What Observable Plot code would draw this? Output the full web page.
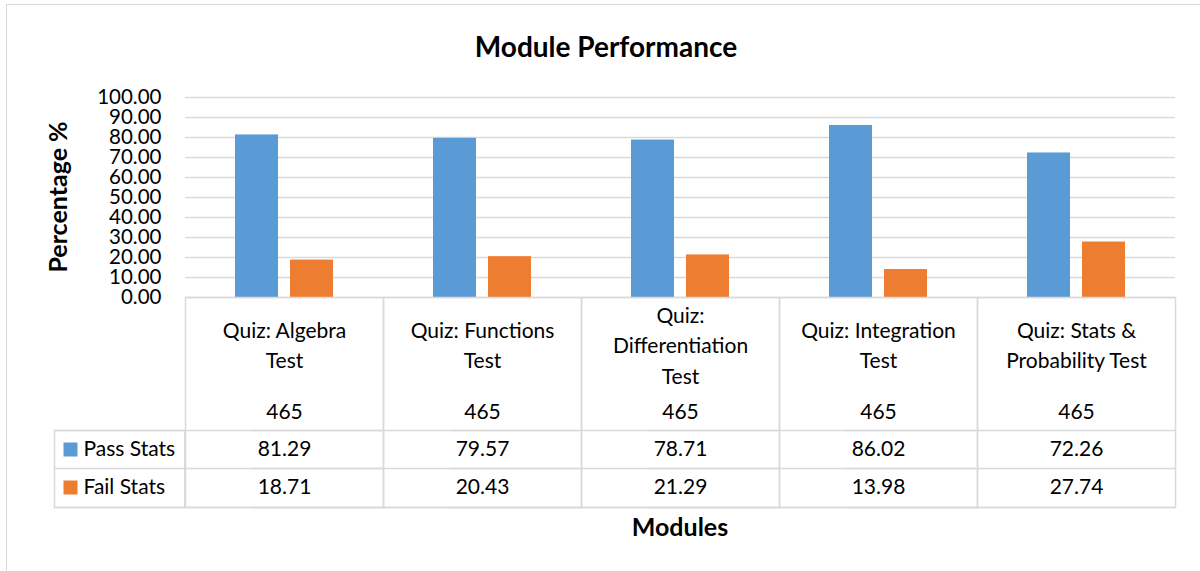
<!DOCTYPE html>
<html>
<head>
<meta charset="utf-8">
<script src="https://cdn.jsdelivr.net/npm/d3@7"></script>
<script src="https://cdn.jsdelivr.net/npm/@observablehq/plot@0.6"></script>
<style>
  html, body { margin: 0; padding: 0; background: #fff; }
  #wrap { position: relative; width: 1200px; height: 571px; overflow: hidden; font-family: "Lato", sans-serif; }
  #border { position: absolute; left: 6px; top: 4px; width: 1300px; height: 700px; border: 1.5px solid #d9d9d9; box-sizing: border-box; }
  .lbl { position: absolute; transform: translate(-50%, -50%); white-space: nowrap; font-weight: 700; line-height: 1; color: #000; }
  #chart { position: absolute; left: 0; top: 0; }
</style>
</head>
<body>
<div id="wrap">
  <div id="border"></div>
  <div id="chart"></div>
  <div class="lbl" id="title" style="left:606px; top:46px; font-size:28px;">Module Performance</div>
  <div class="lbl" id="xlabel" style="left:680px; top:526px; font-size:25px;">Modules</div>
  <div class="lbl" id="ylabel" style="left:57px; top:197px; font-size:25px; transform: translate(-50%, -50%) rotate(-90deg);">Percentage %</div>
</div>
<script>
// ---- data ----
const modules = ["Quiz: Algebra Test", "Quiz: Functions Test", "Quiz: Differentiation Test", "Quiz: Integration Test", "Quiz: Stats & Probability Test"];
const moduleLabels = ["Quiz: Algebra\nTest", "Quiz: Functions\nTest", "Quiz:\nDifferentiation\nTest", "Quiz: Integration\nTest", "Quiz: Stats &\nProbability Test"];
const counts = [465, 465, 465, 465, 465];
const passStats = [81.29, 79.57, 78.71, 86.02, 72.26];
const failStats = [18.71, 20.43, 21.29, 13.98, 27.74];
const seriesNames = ["Pass Stats", "Fail Stats"];
const seriesColors = ["#5B9BD5", "#ED7D31"];
const yTicks = [0, 10, 20, 30, 40, 50, 60, 70, 80, 90, 100];

// ---- derived table ----
const rows = modules.flatMap((m, i) => [
  {module: m, series: seriesNames[0], value: passStats[i]},
  {module: m, series: seriesNames[1], value: failStats[i]}
]);

const lineColor = "#d9d9d9";
const tableFont = 21;

const firstFacet = () => modules[0];

const plot = Plot.plot({
  width: 1200,
  height: 571,
  marginTop: 97,
  marginBottom: 274,
  marginLeft: 183,
  marginRight: 23,
  style: {fontFamily: "Lato, sans-serif", fontSize: "20.5px", color: "#000", background: "transparent", overflow: "visible"},
  fx: {domain: modules, padding: 0, axis: null, label: null},
  x: {domain: seriesNames, paddingInner: 0.214, paddingOuter: 0.884, axis: null, label: null},
  y: {domain: [0, 100], ticks: yTicks, tickFormat: d => d.toFixed(2), tickSize: 0, tickPadding: 24, label: null},
  color: {domain: seriesNames, range: seriesColors},
  marks: [
    Plot.ruleY(yTicks, {stroke: lineColor, strokeWidth: 1.5}),
    Plot.barY(rows, {fx: "module", x: "series", y: "value", fill: "series"}),
    // table grid: column cells
    Plot.frame({stroke: lineColor, strokeWidth: 1.5, insetTop: 200, insetBottom: -210}),
    // row separators (extend into legend column)
    Plot.ruleY([0], {stroke: lineColor, strokeWidth: 1.5, dy: 133, insetLeft: -131}),
    Plot.ruleY([0], {stroke: lineColor, strokeWidth: 1.5, dy: 171, insetLeft: -131}),
    Plot.ruleY([0], {stroke: lineColor, strokeWidth: 1.5, dy: 210, insetLeft: -131}),
    // legend column box
    Plot.frame({fx: [modules[0]], stroke: lineColor, strokeWidth: 1.5, insetTop: 333, insetBottom: -210, insetLeft: -131, insetRight: 198.8}),
    // category labels
    Plot.text(modules, {fx: d => d, text: (d, i) => moduleLabels[i], frameAnchor: "bottom", dy: 46, lineAnchor: "middle", lineHeight: 1.45, fontSize: tableFont, fill: "#000"}),
    // counts row
    Plot.text(counts, {fx: (d, i) => modules[i], text: d => String(d), frameAnchor: "bottom", dy: 115, lineAnchor: "middle", fontSize: tableFont, fill: "#000"}),
    // pass row
    Plot.text(passStats, {fx: (d, i) => modules[i], text: d => d.toFixed(2), frameAnchor: "bottom", dy: 152, lineAnchor: "middle", fontSize: tableFont, fill: "#000"}),
    // fail row
    Plot.text(failStats, {fx: (d, i) => modules[i], text: d => d.toFixed(2), frameAnchor: "bottom", dy: 190, lineAnchor: "middle", fontSize: tableFont, fill: "#000"}),
    // legend keys
    Plot.dot([seriesNames[0]], {fx: firstFacet, frameAnchor: "bottom-left", dx: -115, dy: 152, symbol: "square", r: 7.9, fill: d => d}),
    Plot.dot([seriesNames[1]], {fx: firstFacet, frameAnchor: "bottom-left", dx: -115, dy: 190, symbol: "square", r: 7.9, fill: d => d}),
    Plot.text([seriesNames[0]], {fx: firstFacet, frameAnchor: "bottom-left", text: d => d, textAnchor: "start", dx: -102, dy: 152, lineAnchor: "middle", fontSize: tableFont, fill: "#000"}),
    Plot.text([seriesNames[1]], {fx: firstFacet, frameAnchor: "bottom-left", text: d => d, textAnchor: "start", dx: -102, dy: 190, lineAnchor: "middle", fontSize: tableFont, fill: "#000"})
  ]
});
document.getElementById("chart").appendChild(plot);
</script>
</body>
</html>
